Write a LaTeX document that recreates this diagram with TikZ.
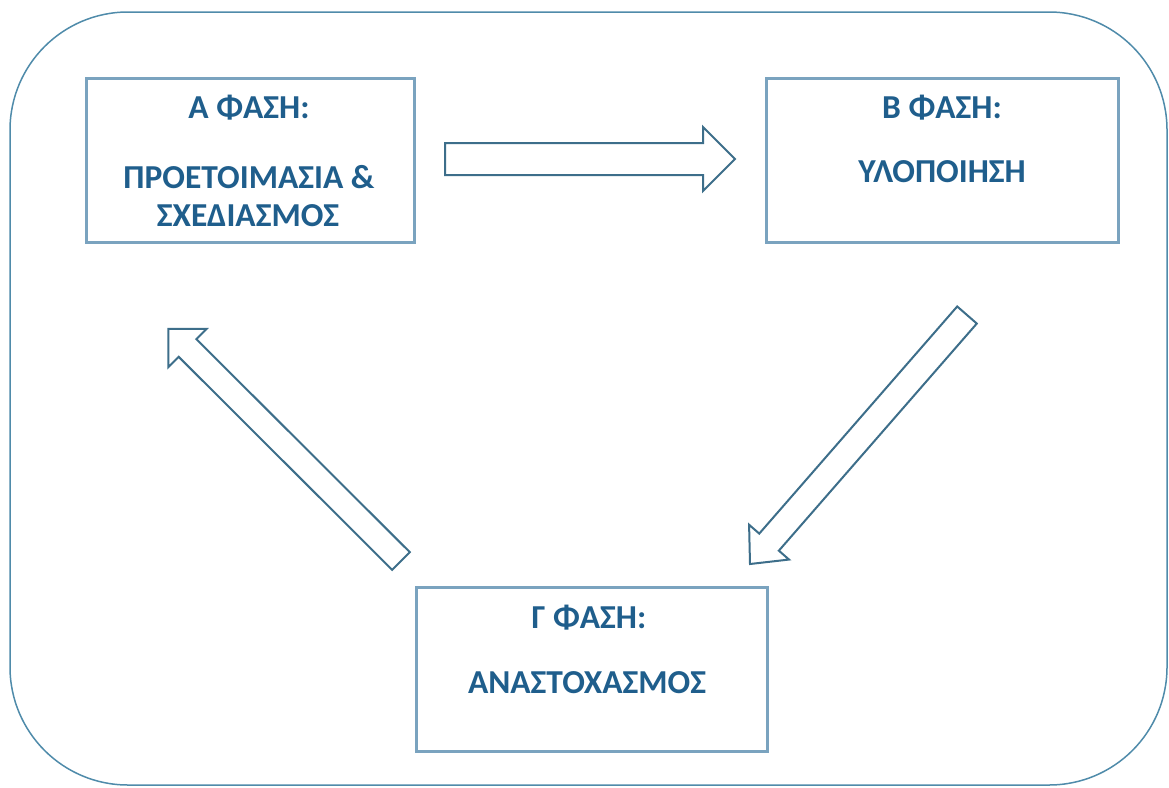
\documentclass[tikz,border=0pt]{standalone}
\usepackage{fontspec}
\setmainfont{Carlito}
\usetikzlibrary{calc}

\definecolor{frameblue}{HTML}{4F8BAA}
\definecolor{boxblue}{HTML}{7AA3BF}
\definecolor{arrowblue}{HTML}{3D6E8A}
\definecolor{textblue}{HTML}{1F5E8C}

\tikzset{
  frame/.style={draw=frameblue, line width=1.5pt, rounded corners=118pt},
  phasebox/.style={draw=boxblue, line width=3pt, fill=white, inner sep=0pt},
  phasetext/.style={text=textblue, font=\bfseries\fontsize{33.5}{38}\selectfont, inner sep=0pt, anchor=base},
  arrowshape/.style={draw=arrowblue, line width=2pt, fill=white, line join=miter}
}

% block arrow: #1 tail, #2 tip, #3 half shaft width, #4 half head width, #5 head length
\newcommand\blockarrow[5]{%
  \coordinate (#1-hb) at ($(#2)!#5!(#1)$);
  \draw[arrowshape] ($(#1)!#3!90:(#2)$) -- ($(#1-hb)!#3!-90:(#1)$)
    -- ($(#1-hb)!#4!-90:(#1)$) -- (#2) -- ($(#1-hb)!#4!90:(#1)$)
    -- ($(#1-hb)!#3!90:(#1)$) -- ($(#1)!#3!-90:(#2)$) -- cycle;
}

\begin{document}
\begin{tikzpicture}[x=1pt, y=-1pt]
  \useasboundingbox (0,0) rectangle (1169,787);

  % outer frame
  \draw[frame] (10,12) rectangle (1167,785);

  % phase boxes
  \node[phasebox, minimum width=328pt, minimum height=164pt] (boxA) at (250,160) {};
  \node[phasebox, minimum width=352pt, minimum height=164pt] (boxB) at (942,160) {};
  \node[phasebox, minimum width=351pt, minimum height=164pt] (boxC) at (591.5,669) {};

  % phase labels
  \node[phasetext] (titleA) at (249,118) {Α ΦΑΣΗ:};
  \node[phasetext] (nameA1) at (249,188) {ΠΡΟΕΤΟΙΜΑΣΙΑ \&};
  \node[phasetext] (nameA2) at (248,226) {ΣΧΕΔΙΑΣΜΟΣ};

  \node[phasetext] (titleB) at (942,118) {Β ΦΑΣΗ:};
  \node[phasetext] (nameB) at (942,182) {ΥΛΟΠΟΙΗΣΗ};

  \node[phasetext] (titleC) at (589,628) {Γ ΦΑΣΗ:};
  \node[phasetext] (nameC) at (587,693) {ΑΝΑΣΤΟΧΑΣΜΟΣ};

  % cycle arrows between the phases
  \coordinate (ab-tail) at (445,159);
  \coordinate (ab-tip)  at (735,159);
  \coordinate (bc-tail) at (967,315);
  \coordinate (bc-tip)  at (750,564);
  \coordinate (ca-tail) at (401,561);
  \coordinate (ca-tip)  at (168.4,328.9);

  \blockarrow{ab-tail}{ab-tip}{16pt}{32pt}{32pt}
  \blockarrow{bc-tail}{bc-tip}{13pt}{26.5pt}{29pt}
  \blockarrow{ca-tail}{ca-tip}{12.5pt}{27pt}{27pt}
\end{tikzpicture}
\end{document}
